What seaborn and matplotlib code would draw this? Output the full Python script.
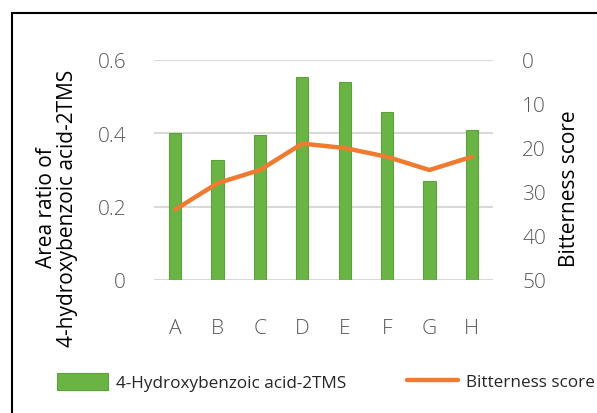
import matplotlib
matplotlib.use("Agg")
import matplotlib.pyplot as plt
from matplotlib.patches import Rectangle, Patch
from matplotlib.lines import Line2D
import seaborn as sns
import pandas as pd

# Samples and measured values
samples = ["A", "B", "C", "D", "E", "F", "G", "H"]
area_ratio = [0.401, 0.326, 0.395, 0.554, 0.539, 0.459, 0.270, 0.408]
bitterness = [34, 28, 25, 19, 20, 22, 25, 22]
left_ticks = [0, 0.2, 0.4, 0.6]
left_tick_labels = ["0", "0.2", "0.4", "0.6"]
right_ticks = [0, 10, 20, 30, 40, 50]

bar_name = "4-Hydroxybenzoic acid-2TMS"
line_name = "Bitterness score"

GREEN = "#6AB445"
GREEN_EDGE = "#5CA23A"
ORANGE = "#EF7B30"
GRID = "#D9D9D9"
TICK = "#595959"

sns.set_theme(style="white")
plt.rcParams["font.family"] = ["Open Sans", "DejaVu Sans"]

df = pd.DataFrame({"sample": samples, "ratio": area_ratio, "score": bitterness})

W, H = 597, 414
fig = plt.figure(figsize=(W / 100, H / 100), dpi=100)
ax = fig.add_axes([154 / W, 1 - 281 / H, 339 / W, 220 / H])

sns.barplot(data=df, x="sample", y="ratio", ax=ax, color=GREEN,
            width=0.29, edgecolor=GREEN_EDGE, linewidth=0.8, saturation=1)
ax.set_ylim(0, 0.6)
ax.set_xlim(-0.5, len(samples) - 0.5)
ax.set_yticks(left_ticks)
ax.set_yticklabels(left_tick_labels)
for y in left_ticks:
    ax.axhline(y, color=GRID, lw=1.5, zorder=0)
ax.set_axisbelow(True)
for s in ax.spines.values():
    s.set_visible(False)
ax.tick_params(axis="both", length=0, labelsize=15, labelcolor=TICK)
ax.tick_params(axis="y", pad=20)
ax.tick_params(axis="x", pad=27)
for t in ax.get_xticklabels() + ax.get_yticklabels():
    t.set_fontweight("light")
ax.set_xlabel("")
ax.set_ylabel("Area ratio of\n4-hydroxybenzoic acid-2TMS", fontsize=15,
              color="black", linespacing=1.0)
ax.yaxis.set_label_coords((78 - 154) / 339, (281 - 208) / 220)

ax2 = ax.twinx()
sns.lineplot(x=list(range(len(samples))), y=bitterness, ax=ax2, color=ORANGE,
             lw=3.2, solid_capstyle="round", solid_joinstyle="round")
ax2.set_ylim(50, 0)
ax2.set_yticks(right_ticks)
for s in ax2.spines.values():
    s.set_visible(False)
ax2.tick_params(axis="y", length=0, labelsize=15, labelcolor=TICK, pad=21)
for t in ax2.get_yticklabels():
    t.set_fontweight("light")
ax2.set_ylabel("Bitterness score", fontsize=15, color="black")
ax2.yaxis.set_label_coords((559 - 154) / 339, (281 - 189) / 220)

# Legend entries along the bottom
legend_kw = dict(loc="center left", frameon=False, fontsize=12.3,
                 borderpad=0, borderaxespad=0, handletextpad=0.45)
fig.legend([Patch(facecolor=GREEN, edgecolor=GREEN_EDGE, lw=0.8)],
           [bar_name], bbox_to_anchor=(57 / W, 1 - 383 / H),
           handlelength=3.0, handleheight=1.2, **legend_kw)
fig.legend([Line2D([0], [0], color=ORANGE, lw=3.2, solid_capstyle="round")],
           [line_name], bbox_to_anchor=(407 / W, 1 - 383 / H),
           handlelength=3.0, **legend_kw)

# Chart frame
fig.patches.append(Rectangle((11.5 / W, -0.1), 1.2, 1 - 13.5 / H + 0.1,
                             transform=fig.transFigure, fill=False,
                             edgecolor="black", lw=1.5))

fig.savefig("out.png", dpi=100)
